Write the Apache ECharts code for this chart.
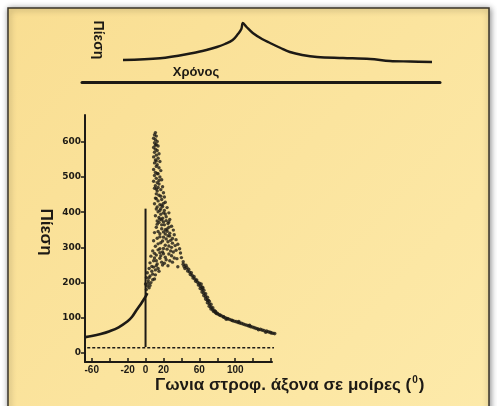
<!DOCTYPE html>
<html>
<head>
<meta charset="utf-8">
<script src="https://cdn.jsdelivr.net/npm/echarts@6/dist/echarts.min.js"></script>
<style>
html,body{margin:0;padding:0;background:#fff;}
#chart{width:497px;height:406px;}
</style>
</head>
<body>
<div id="chart"></div>
<script>
// ---- Top sketch: pressure vs time ----
const topTime = [0, 12, 22.7, 27, 30.4, 33, 35.5, 37.2, 38.3, 38.8, 40, 42, 45, 47.6, 51, 54, 58, 62.8, 71.2, 80, 86.4, 92.9, 100];
const topPressure = [2, 3.7, 9, 12, 15, 18, 22, 28, 33, 39, 35, 29, 23, 19, 14, 10, 7, 5, 4, 3, 1, 0.5, 0];

// ---- Main chart: pressure vs crank angle ----
const xTicks = [-60, -40, -20, 0, 20, 40, 60, 80, 100, 120, 140];
const xLabels = [-60, -20, 0, 20, 60, 100];
const yTicks = [0, 100, 200, 300, 400, 500, 600];

// compression curve (motored part)
const compAngle = [-67, -60, -50, -40, -30, -20, -15, -10, -5, -2, 0, 2];
const compPressure = [45, 48, 54, 62, 73, 90, 103, 122, 140, 152, 160, 170];

// ignition marker at 0°
const markAngle = [0, 0];
const markPressure = [17, 410];

// low dotted line
const lowAngle = [-65, 145];
const lowPressure = [15, 15];

// cycle points around the pressure peak: [angle, pressure]
const peakCloud = [
  [11,626],[10,620],[12,616],[9,610],[11,606],[13,601],[10,597],[12,592],[14,588],[9,584],[11,579],[13,575],
  [10,570],[15,566],[12,562],[9,557],[14,553],[11,548],[16,544],[10,540],[13,535],[12,530],[15,526],[9,521],
  [17,518],[11,513],[14,509],[10,504],[16,500],[12,496],[18,492],[9,488],[13,484],[15,480],[11,475],[19,472],
  [10,468],[17,464],[13,460],[20,455],[12,452],[15,448],[21,443],[11,440],[18,436],[14,432],[22,428],[10,424],
  [16,421],[19,416],[24,413],[12,409],[21,405],[14,401],[26,398],[17,394],[11,390],[23,387],[19,383],[27,379],
  [13,375],[15,371],[25,368],[21,364],[29,360],[12,357],[18,353],[31,349],[24,346],[10,342],[16,339],[32,336],
  [27,332],[20,329],[13,326],[34,322],[9,319],[25,316],[17,313],[36,309],[22,306],[11,303],[29,300],[38,296],
  [14,293],[8,290],[19,287],[39,284],[26,281],[12,278],[6,275],[40,271],[16,269],[23,265],[9,262],[42,259],
  [5,256],[13,253],[19,250],[7,246],[4,240],[11,236],[15,232],[2,228],[8,224],[5,219],[1,214],[10,210],
  [3,205],[6,200],[0,196],[2,190],[4,185],[1,180],
  [14,470],[12,438],[18,420],[22,395],[15,385],[20,372],[26,357],[14,345],[22,338],[28,320],[19,318],[33,305],
  [24,295],[31,287],[17,276],[35,268],[27,262],[21,255],[10,270],[36,245],[30,258],
  [17,410],[20,398],[16,380],[23,376],[18,364],[24,352],[20,344],[27,340],[16,330],[23,324],[30,312],[14,310],
  [26,304],[20,297],[34,292],[16,285],[29,276],[22,272],[12,262],[18,258],[25,248],[9,244],[14,240],[7,232],
  [11,222],[4,214],[8,208],[3,198],[5,192],[12,248],[20,282],[32,270],[10,283],[28,290],[16,296],[25,333],
  [30,325],[13,366],[18,378],[22,350],[26,372],[16,405],[20,425],[13,415],[17,445],[12,466],[15,490],[13,510],
  [12,545],[11,590]
];

// expansion branch: [angle, pressure]
const expansionBand = [
  [42,252],[45,249],[43,246],[46,243],[44,240],[48,238],[47,233],[49,230],[51,228],[50,223],[52,220],[54,217],
  [53,213],[55,210],[57,207],[56,204],[58,201],[60,198],[62,196],[59,193],[61,190],[63,187],[61,183],[63,180],
  [65,178],[63,173],[65,170],[67,168],[65,163],[67,160],[69,158],[67,153],[69,150],[71,147],[69,143],[71,140],
  [73,138],[71,133],[73,130],[75,128],[73,125],[75,122],[77,120],[76,118],[78,115],[80,113],[79,112],[81,110],
  [83,108],[83,107],[85,105],[87,103],[87,102],[89,100],[91,98],[92,97],[94,95],[96,93],[97,92],[99,90],
  [101,89],[103,87],[105,85],[107,84],[109,82],[111,80],[113,79],[115,77],[117,75],[119,74],[121,72],[123,70],
  [125,69],[128,67],[130,65],[132,64],[135,62],[137,60],[139,59],[140,57],[142,56],[144,55],
  [90,96],[104,89],[116,79],[126,66],[134,59],[78,118],[70,150],[64,185]
];

const ink = '#1d1a15';
const zip = (a, b) => a.map((v, i) => [v, b[i]]);

const chart = echarts.init(document.getElementById('chart'), null, {renderer: 'canvas'});
chart.setOption({
  backgroundColor: '#ffffff',
  animation: false,
  graphic: [
    {
      type: 'rect', z: -10, silent: true,
      shape: {x: 8, y: 8, width: 481, height: 420},
      style: {
        fill: new echarts.graphic.LinearGradient(0, 0, 1, 1, [
          {offset: 0, color: '#F9DE92'},
          {offset: 1, color: '#FDEAAA'}
        ]),
        stroke: '#3a342a', lineWidth: 1.5,
        shadowBlur: 6, shadowColor: 'rgba(0,0,0,0.45)', shadowOffsetX: 1, shadowOffsetY: 1
      }
    },
    {
      type: 'text', x: 98, y: 40, rotation: -Math.PI / 2,
      style: {text: 'Πίεση', font: 'bold 14px "Liberation Sans", Arial, sans-serif', fill: ink, align: 'center', verticalAlign: 'middle'}
    },
    {
      type: 'text', x: 196, y: 72,
      style: {text: 'Χρόνος', font: 'bold 13px "Liberation Sans", Arial, sans-serif', fill: ink, align: 'center', verticalAlign: 'middle'}
    },
    {
      type: 'text', x: 46, y: 232, rotation: -Math.PI / 2,
      style: {text: 'Πίεση', font: 'bold 17px "Liberation Sans", Arial, sans-serif', fill: ink, align: 'center', verticalAlign: 'middle'}
    },
    {
      type: 'text', x: 155, y: 385,
      style: {
        text: '{m|Γωνια στροφ. άξονα σε μοίρες (}{s|0}{m|)}',
        rich: {
          m: {font: 'bold 17px "Liberation Sans", Arial, sans-serif', fill: ink},
          s: {font: 'bold 10px "Liberation Sans", Arial, sans-serif', fill: ink, padding: [0, 1, 9, 1]}
        },
        align: 'left', verticalAlign: 'middle'
      }
    }
  ],
  grid: [
    {left: 85, top: 115, width: 187, height: 247},
    {left: 123, top: 22, width: 309, height: 40},
    {left: 82, top: 40, width: 358, height: 42}
  ],
  xAxis: [
    {
      gridIndex: 0, type: 'value', min: -67.5, max: 141,
      axisLine: {onZero: false, lineStyle: {color: ink, width: 2}},
      axisTick: {show: true, inside: true, length: 4, lineStyle: {color: ink, width: 1.5}, customValues: xTicks},
      axisLabel: {customValues: xLabels, margin: 3, color: ink, fontSize: 10, fontWeight: 'bold', fontFamily: '"Liberation Sans", Arial, sans-serif'},
      splitLine: {show: false}
    },
    {gridIndex: 1, type: 'value', min: 0, max: 100, show: false},
    {
      gridIndex: 2, type: 'value', min: 0, max: 1,
      axisLine: {onZero: false, lineStyle: {color: ink, width: 3}},
      axisTick: {show: false}, axisLabel: {show: false}, splitLine: {show: false}
    }
  ],
  yAxis: [
    {
      gridIndex: 0, type: 'value', min: -25.6, max: 676,
      axisLine: {show: true, onZero: false, lineStyle: {color: ink, width: 2}},
      axisTick: {show: true, length: 4, lineStyle: {color: ink, width: 1.5}, customValues: yTicks},
      axisLabel: {customValues: yTicks, margin: 4, color: ink, fontSize: 9, fontWeight: 'bold', fontFamily: '"DejaVu Sans", sans-serif'},
      splitLine: {show: false}
    },
    {gridIndex: 1, type: 'value', min: 0, max: 40, show: false},
    {gridIndex: 2, type: 'value', min: 0, max: 1, show: false}
  ],
  series: [
    {
      type: 'line', xAxisIndex: 1, yAxisIndex: 1, data: zip(topTime, topPressure),
      showSymbol: false, smooth: 0.35, lineStyle: {color: ink, width: 2.4}, clip: false
    },
    {
      type: 'line', xAxisIndex: 0, yAxisIndex: 0, data: zip(compAngle, compPressure),
      showSymbol: false, smooth: 0.4, lineStyle: {color: ink, width: 2.6}, clip: false
    },
    {
      type: 'line', xAxisIndex: 0, yAxisIndex: 0, data: zip(markAngle, markPressure),
      showSymbol: false, lineStyle: {color: ink, width: 2}, clip: false
    },
    {
      type: 'line', xAxisIndex: 0, yAxisIndex: 0, data: zip(lowAngle, lowPressure),
      showSymbol: false, lineStyle: {color: ink, width: 1.5, type: [3, 2]}, clip: false
    },
    {
      type: 'scatter', xAxisIndex: 0, yAxisIndex: 0, data: peakCloud,
      symbolSize: 3.4, itemStyle: {color: ink}, clip: false
    },
    {
      type: 'scatter', xAxisIndex: 0, yAxisIndex: 0, data: expansionBand,
      symbolSize: 3.6, itemStyle: {color: ink}, clip: false
    }
  ]
});
</script>
</body>
</html>
